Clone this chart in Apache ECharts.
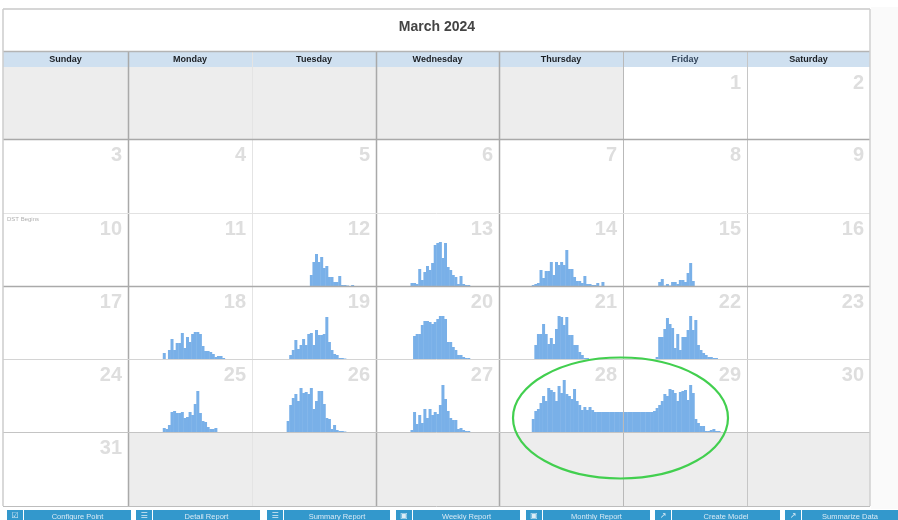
<!DOCTYPE html>
<html>
<head>
<meta charset="utf-8">
<title>March 2024</title>
<script src="https://cdn.jsdelivr.net/npm/echarts@6/dist/echarts.min.js"></script>
<style>
  html, body { margin: 0; padding: 0; background: #fff; overflow: hidden; }
  #chart { width: 898px; height: 520px; }
</style>
</head>
<body>
<div id="chart"></div>
<script>
  const monthTitle = 'March 2024'
  const weekdays = ['Sunday', 'Monday', 'Tuesday', 'Wednesday', 'Thursday', 'Friday', 'Saturday']
  const buttons = ['Configure Point', 'Detail Report', 'Summary Report', 'Weekly Report', 'Monthly Report', 'Create Model', 'Summarize Data']
  const buttonIcons = ['☑', '☰', '☰', '▣', '▣', '↗', '↗']

  // 48 half hour bins per day, each list begins at the bin in dayStartBin
  const dayStartBin = { 12: 23, 13: 14, 14: 13, 15: 14, 18: 14, 19: 15, 20: 15, 21: 14, 22: 13, 25: 14, 26: 14, 27: 14, 28: 13, 29: 0 }
  const day12 = [11, 24, 32, 24, 29, 18, 20, 9, 9, 4, 4, 10, 1, 1, 0.5, 0, 1]
  const day13 = [3, 3, 2, 17, 6, 14, 20, 16, 23, 41, 43, 44, 28, 43, 19, 16, 11, 9, 2, 10, 2, 1, 1]
  const day14 = [1, 2, 3, 16, 8, 15, 15, 24, 11, 24, 21, 24, 21, 36, 17, 17, 9, 5, 5, 3, 10, 2, 2, 1, 1, 3, 0, 4]
  const day15 = [4, 7, 0.5, 2, 0.5, 4, 4, 2, 6, 6, 4, 13, 23, 5]
  const day18 = [6, 0, 9, 20, 9, 16, 16, 26, 11, 22, 17, 25, 27, 27, 25, 13, 8, 8, 7, 5, 2, 3, 3, 1]
  const day19 = [4, 9, 19, 10, 14, 20, 14, 25, 26, 14, 29, 24, 24, 25, 42, 17, 9, 5, 4, 1, 1, 0.5]
  const day20 = [23, 25, 25, 34, 38, 38, 37, 35, 37, 40, 43, 43, 40, 17, 17, 12, 9, 4, 4, 2, 1, 1]
  const day21 = [14, 25, 25, 35, 25, 15, 21, 15, 30, 43, 42, 34, 42, 24, 24, 14, 14, 7, 4, 1, 1]
  const day22 = [2, 22, 22, 30, 41, 35, 31, 11, 25, 9, 22, 22, 29, 43, 29, 39, 14, 9, 6, 4, 2, 2, 1, 1]
  const day25 = [4, 3, 7, 20, 21, 19, 19, 20, 14, 15, 20, 17, 28, 41, 19, 11, 10, 5, 3, 3, 4]
  const day26 = [11, 27, 34, 38, 31, 44, 39, 40, 38, 44, 23, 31, 41, 41, 28, 14, 13, 3, 7, 2, 1, 1, 0.5]
  const day27 = [2, 20, 8, 17, 9, 23, 14, 23, 17, 20, 18, 27, 47, 33, 21, 14, 12, 12, 3, 4, 2, 1, 1]
  const day28 = [13, 21, 23, 29, 36, 31, 44, 42, 40, 31, 46, 39, 52, 38, 36, 33, 43, 31, 27, 22, 25, 22, 25, 22, 20, 20, 20, 20, 20, 20, 20, 20, 20, 20, 20]
  const day29 = [20, 20, 20, 20, 20, 20, 20, 20, 20, 20, 20, 20, 21, 24, 27, 31, 38, 36, 43, 42, 39, 31, 40, 41, 42, 32, 47, 39, 13, 9, 6, 6, 1, 1, 2, 3, 1, 1]
  const dayValues = { 12: day12, 13: day13, 14: day14, 15: day15, 18: day18, 19: day19, 20: day20, 21: day21, 22: day22, 25: day25, 26: day26, 27: day27, 28: day28, 29: day29 }

  const binsPerDay = 48
  const yMax = 73
  const font = '"Liberation Sans", Arial, sans-serif'

  // layout of the calendar
  const colX = [3, 128, 252, 376, 499, 623, 747, 870]
  const rowY = [67, 139, 213, 286, 359, 432, 506]
  const colLine = ['', '#a9a9a9', '#e4e4e4', '#a9a9a9', '#a9a9a9', '#b9b9b9', '#c6c6c6', '']
  const rowLine = ['', '#a9a9a9', '#e2e2e2', '#aaaaaa', '#d4d4d4', '#c4c4c4', '#bdbdbd']
  const buttonX = [7, 136, 267, 396, 526, 655, 785]
  const buttonEnd = [131, 260, 390, 520, 650, 780, 898]

  const categories = Array.from({ length: binsPerDay * 7 }, (_, i) => i)

  // week is 0 based, March 1st falls on the Friday of week 0
  const weekSeries = week => {
    const values = categories.map(() => 0)
    Object.keys(dayValues).forEach(day => {
      const cell = Number(day) + 4
      if (Math.floor(cell / 7) !== week) return
      dayValues[day].forEach((v, i) => {
        values[(cell % 7) * binsPerDay + dayStartBin[day] + i] = v
      })
    })
    return values
  }

  const chartWeeks = [2, 3, 4]
  const grids = chartWeeks.map(w => ({ left: colX[0], width: colX[7] - colX[0], top: rowY[w], height: rowY[w + 1] - rowY[w] }))
  const xAxes = chartWeeks.map((w, i) => ({ type: 'category', gridIndex: i, data: categories, show: false }))
  const yAxes = chartWeeks.map((w, i) => ({ type: 'value', gridIndex: i, min: 0, max: yMax, show: false }))
  const series = chartWeeks.map((w, i) => ({
    type: 'bar',
    xAxisIndex: i,
    yAxisIndex: i,
    data: weekSeries(w),
    barWidth: 3, // a bit over one bin so no white slits show between the bars
    barGap: 0,
    silent: true,
    animation: false,
    itemStyle: { color: '#79b0e8' },
  }))

  const graphics = []
  const rect = (x, y, w, h, fill, z = 0) => graphics.push({ type: 'rect', shape: { x, y, width: w, height: h }, style: { fill }, z, silent: true })
  const line = (x1, y1, x2, y2, stroke, lineWidth = 1) => graphics.push({ type: 'line', shape: { x1, y1, x2, y2 }, style: { stroke, lineWidth }, z: 5, silent: true })
  const text = (x, y, str, fill, size, weight, align, family = font) => graphics.push({
    type: 'text', x, y, z: 6, silent: true,
    style: { text: str, fill, font: `${weight} ${size}px ${family}`, textAlign: align, textVerticalAlign: 'middle' },
  })

  rect(871, 7, 27, 502, '#fafafa')

  // greyed out days outside the month
  for (let c = 0; c < 7; c++) {
    if (c < 5) rect(colX[c], rowY[0], colX[c + 1] - colX[c], rowY[1] - rowY[0], '#ededed')
    if (c > 0) rect(colX[c], rowY[5], colX[c + 1] - colX[c], rowY[6] - rowY[5], '#ededed')
  }

  // header
  rect(colX[0], 52, colX[7] - colX[0], 15, '#cfe0f0')
  weekdays.forEach((d, c) => text((colX[c] + colX[c + 1]) / 2, 59.5, d, d === 'Friday' ? '#34465c' : '#1b1f24', 9, 'bold', 'center'))
  text(437, 27, monthTitle, '#444444', 14, 'bold', 'center')

  // grid lines and frame
  for (let c = 1; c < 7; c++) line(colX[c] + 0.5, 52, colX[c] + 0.5, rowY[6], colLine[c], c === 1 || c === 3 || c === 4 ? 1.5 : 1)
  for (let r = 1; r < 7; r++) line(colX[0], rowY[r] + 0.5, colX[7], rowY[r] + 0.5, rowLine[r], r === 1 || r === 3 ? 1.5 : 1)
  line(colX[0], 9, colX[7], 9, '#c8c8c8', 1.5)
  line(colX[0], 51.5, colX[7], 51.5, '#b4b4b4', 1.5)
  line(colX[0], 9, colX[0], rowY[6], '#cccccc', 1.5)
  line(colX[7], 9, colX[7], rowY[6], '#cfcfcf', 1.5)

  // day numbers
  for (let day = 1; day <= 31; day++) {
    const cell = day + 4
    const c = cell % 7
    const r = Math.floor(cell / 7)
    text(colX[c + 1] - 6, rowY[r] + 16.5, String(day), '#dedede', 20, 'bold', 'right')
  }
  text(7, 219, 'DST Begins', '#b0b0b0', 6, 'normal', 'left')

  // buttons along the bottom
  buttons.forEach((b, i) => {
    rect(buttonX[i], 510, buttonEnd[i] - buttonX[i], 10, '#3398cc')
    line(buttonX[i] + 16.5, 510, buttonX[i] + 16.5, 520, '#ffffff', 1)
    text(buttonX[i] + 8, 516, buttonIcons[i], '#dcecf6', 8, 'normal', 'center', '"DejaVu Sans"')
    text((buttonX[i] + 17 + buttonEnd[i]) / 2, 517, b, '#d8e9f4', 7.5, 'normal', 'center')
  })

  // hand drawn ring around the long run
  graphics.push({
    type: 'ellipse', z: 7, silent: true,
    shape: { cx: 620.5, cy: 418, rx: 107.5, ry: 60.5 },
    style: { fill: 'none', stroke: '#42cf4f', lineWidth: 2.2 },
  })

  const myChart = echarts.init(document.getElementById('chart'), null, { renderer: 'canvas' })
  myChart.setOption({
    backgroundColor: '#ffffff',
    animation: false,
    tooltip: { show: false },
    graphic: { elements: graphics },
    grid: grids,
    xAxis: xAxes,
    yAxis: yAxes,
    series,
  })
</script>
</body>
</html>
